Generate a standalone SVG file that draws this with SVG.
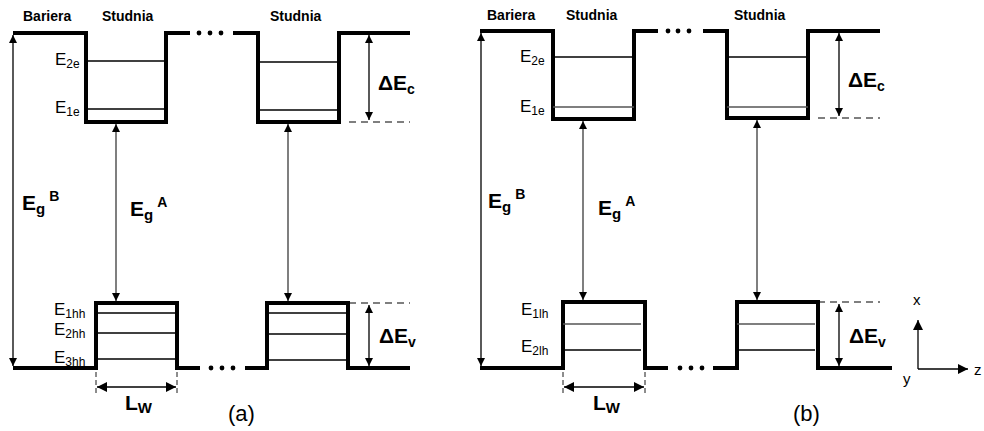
<svg xmlns="http://www.w3.org/2000/svg" width="984" height="431" viewBox="0 0 984 431">
<style>
.band{fill:none;stroke:#000;stroke-width:4;stroke-linejoin:miter;stroke-linecap:butt}
.dot{fill:#000}
.lvl{stroke:#000;stroke-width:1.3}
.lvlg{stroke:#555;stroke-width:1.3}
.arr{stroke:#000;stroke-width:1.3;fill:none}
.arrg{stroke:#555;stroke-width:1.5;fill:none}
.dash{stroke:#000;stroke-width:1.2;stroke-dasharray:7,5;fill:none}
.tick{stroke:#000;stroke-width:0.9;stroke-dasharray:5,3;fill:none}
text{font-family:"Liberation Sans",Arial,sans-serif;fill:#000}
.hdr{font-size:14px;font-weight:bold}
.lab{font-size:17px}
.big{font-size:21px;font-weight:bold}
.cap{font-size:22px}
.ax{font-size:15px}
</style>
<defs>
<marker id="ah" viewBox="0 0 10 10" refX="10" refY="5" markerWidth="9" markerHeight="8" markerUnits="userSpaceOnUse" orient="auto-start-reverse"><path d="M0,0 L10,5 L0,10 Z" fill="#000"/></marker>
<marker id="ahb" viewBox="0 0 10 10" refX="10" refY="5" markerWidth="12" markerHeight="10" markerUnits="userSpaceOnUse" orient="auto-start-reverse"><path d="M0,0 L10,5 L0,10 Z" fill="#000"/></marker>
</defs>

<!-- Panel (a) -->
<g id="panel-a">
 <g id="a-headers">
  <text class="hdr" x="23" y="21">Bariera</text>
  <text class="hdr" x="102" y="21">Studnia</text>
  <text class="hdr" x="270" y="21">Studnia</text>
 </g>
 <g id="a-conduction">
  <path class="band" d="M13,33 H86 V122 H166 V33 H190"/>
  <path class="band" d="M233,33 H258 V122 H339 V33 H410"/>
  <circle class="dot" cx="199" cy="33" r="2.4"/><circle class="dot" cx="210" cy="33" r="2.4"/><circle class="dot" cx="221" cy="33" r="2.4"/>
  <line class="lvl" x1="86" y1="61" x2="166" y2="61"/>
  <line class="lvl" x1="86" y1="109" x2="166" y2="109"/>
  <line class="lvl" x1="258" y1="62" x2="339" y2="62"/>
  <line class="lvl" x1="258" y1="110" x2="339" y2="110"/>
  <text class="lab" x="55" y="65">E<tspan font-size="12" dy="3">2e</tspan></text>
  <text class="lab" x="55" y="113">E<tspan font-size="12" dy="3">1e</tspan></text>
 </g>
 <g id="a-valence">
  <path class="band" d="M13,368 H96 V303 H177 V368 H200"/>
  <path class="band" d="M245,368 H267 V303 H348 V368 H410"/>
  <circle class="dot" cx="211" cy="368" r="2.4"/><circle class="dot" cx="222" cy="368" r="2.4"/><circle class="dot" cx="233" cy="368" r="2.4"/>
  <line class="lvl" x1="96" y1="313" x2="177" y2="313"/>
  <line class="lvl" x1="96" y1="333" x2="177" y2="333"/>
  <line class="lvl" x1="96" y1="359" x2="177" y2="359"/>
  <line class="lvl" x1="267" y1="313" x2="348" y2="313"/>
  <line class="lvl" x1="267" y1="334" x2="348" y2="334"/>
  <line class="lvl" x1="267" y1="360" x2="348" y2="360"/>
  <text class="lab" x="54" y="315">E<tspan font-size="12" dy="3">1hh</tspan></text>
  <text class="lab" x="54" y="335">E<tspan font-size="12" dy="3">2hh</tspan></text>
  <text class="lab" x="54" y="363">E<tspan font-size="12" dy="3">3hh</tspan></text>
 </g>
 <g id="a-connectors">
  <line class="arr" x1="13" y1="35" x2="13" y2="366" marker-start="url(#ah)" marker-end="url(#ah)"/>
  <line class="arrg" x1="116" y1="124" x2="116" y2="301" marker-start="url(#ah)" marker-end="url(#ah)"/>
  <line class="arrg" x1="288" y1="124" x2="288" y2="301" marker-start="url(#ah)" marker-end="url(#ah)"/>
  <line class="arr" x1="369" y1="35" x2="369" y2="120" marker-start="url(#ah)" marker-end="url(#ah)"/>
  <line class="dash" x1="349" y1="122" x2="410" y2="122"/>
  <line class="arr" x1="369" y1="305" x2="369" y2="366" marker-start="url(#ah)" marker-end="url(#ah)"/>
  <line class="dash" x1="349" y1="303" x2="410" y2="303"/>
  <line class="tick" x1="96" y1="372" x2="96" y2="393"/>
  <line class="tick" x1="177" y1="372" x2="177" y2="393"/>
  <line class="arr" x1="97" y1="387" x2="176" y2="387" marker-start="url(#ahb)" marker-end="url(#ahb)"/>
 </g>
 <g id="a-labels">
  <text class="big" x="22" y="210">E<tspan font-size="15" dy="4">g</tspan><tspan font-size="14" dx="4" dy="-13">B</tspan></text>
  <text class="big" x="130" y="216">E<tspan font-size="15" dy="4">g</tspan><tspan font-size="14" dx="4" dy="-13">A</tspan></text>
  <text class="big" x="378" y="90">ΔE<tspan font-size="14" dy="4">c</tspan></text>
  <text class="big" x="379" y="343">ΔE<tspan font-size="14" dy="4">v</tspan></text>
  <text class="big" x="125" y="410">L<tspan font-size="15" dy="3">W</tspan></text>
  <text class="cap" x="228" y="421">(a)</text>
 </g>
</g>

<!-- Panel (b) -->
<g id="panel-b">
 <g id="b-headers">
  <text class="hdr" x="487" y="20">Bariera</text>
  <text class="hdr" x="566" y="20">Studnia</text>
  <text class="hdr" x="734" y="20">Studnia</text>
 </g>
 <g id="b-conduction">
  <path class="band" d="M480,31 H553 V119 H634 V31 H658"/>
  <path class="band" d="M703,31 H727 V118 H808 V31 H880"/>
  <circle class="dot" cx="668" cy="31" r="2.4"/><circle class="dot" cx="678" cy="31" r="2.4"/><circle class="dot" cx="689" cy="31" r="2.4"/>
  <line class="lvl" x1="553" y1="57" x2="634" y2="57"/>
  <line class="lvlg" x1="553" y1="107" x2="634" y2="107"/>
  <line class="lvl" x1="727" y1="57" x2="808" y2="57"/>
  <line class="lvlg" x1="727" y1="107" x2="808" y2="107"/>
  <text class="lab" x="520" y="62">E<tspan font-size="12" dy="3">2e</tspan></text>
  <text class="lab" x="520" y="112">E<tspan font-size="12" dy="3">1e</tspan></text>
 </g>
 <g id="b-valence">
  <path class="band" d="M480,368 H563 V302 H645 V368 H668"/>
  <path class="band" d="M713,368 H737 V302 H818 V368 H892"/>
  <circle class="dot" cx="680" cy="368" r="2.4"/><circle class="dot" cx="691" cy="368" r="2.4"/><circle class="dot" cx="702" cy="368" r="2.4"/>
  <line class="lvlg" x1="563" y1="324" x2="641" y2="324"/>
  <line class="lvl" x1="563" y1="350" x2="641" y2="350"/>
  <line class="lvlg" x1="737" y1="324" x2="815" y2="324"/>
  <line class="lvl" x1="737" y1="350" x2="815" y2="350"/>
  <text class="lab" x="521" y="315">E<tspan font-size="12" dy="3">1lh</tspan></text>
  <text class="lab" x="521" y="352">E<tspan font-size="12" dy="3">2lh</tspan></text>
 </g>
 <g id="b-connectors">
  <line class="arr" x1="481" y1="33" x2="481" y2="366" marker-start="url(#ah)" marker-end="url(#ah)"/>
  <line class="arrg" x1="583" y1="121" x2="583" y2="300" marker-start="url(#ah)" marker-end="url(#ah)"/>
  <line class="arrg" x1="757" y1="120" x2="757" y2="300" marker-start="url(#ah)" marker-end="url(#ah)"/>
  <line class="arr" x1="839" y1="33" x2="839" y2="116" marker-start="url(#ah)" marker-end="url(#ah)"/>
  <line class="dash" x1="818" y1="118" x2="880" y2="118"/>
  <line class="arr" x1="839" y1="304" x2="839" y2="366" marker-start="url(#ah)" marker-end="url(#ah)"/>
  <line class="dash" x1="818" y1="302" x2="880" y2="302"/>
  <line class="tick" x1="563" y1="372" x2="563" y2="393"/>
  <line class="tick" x1="645" y1="372" x2="645" y2="393"/>
  <line class="arr" x1="564" y1="387" x2="644" y2="387" marker-start="url(#ahb)" marker-end="url(#ahb)"/>
 </g>
 <g id="b-labels">
  <text class="big" x="488" y="208">E<tspan font-size="15" dy="4">g</tspan><tspan font-size="14" dx="4" dy="-13">B</tspan></text>
  <text class="big" x="598" y="215">E<tspan font-size="15" dy="4">g</tspan><tspan font-size="14" dx="4" dy="-13">A</tspan></text>
  <text class="big" x="848" y="87">ΔE<tspan font-size="14" dy="4">c</tspan></text>
  <text class="big" x="849" y="343">ΔE<tspan font-size="14" dy="4">v</tspan></text>
  <text class="big" x="593" y="410">L<tspan font-size="15" dy="3">W</tspan></text>
  <text class="cap" x="793" y="421">(b)</text>
 </g>
 <g id="axes">
  <line class="arr" x1="918" y1="369" x2="918" y2="320" marker-end="url(#ahb)"/>
  <line class="arr" x1="918" y1="369" x2="968" y2="369" marker-end="url(#ahb)"/>
  <text class="ax" x="913" y="305">x</text>
  <text class="ax" x="903" y="384">y</text>
  <text class="ax" x="974" y="375">z</text>
 </g>
</g>
</svg>
